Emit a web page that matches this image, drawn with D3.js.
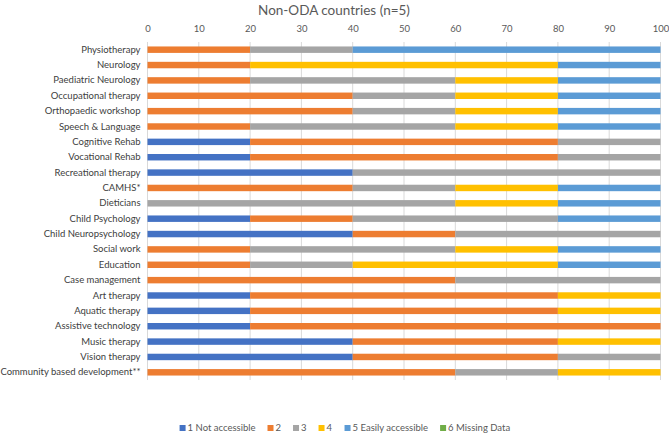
<!DOCTYPE html>
<html>
<head>
<meta charset="utf-8">
<script src="https://cdn.jsdelivr.net/npm/d3@7"></script>
<style>
  body { margin: 0; background: #fff; }
  svg { display: block; font-family: Lato, "Open Sans", sans-serif; }
</style>
</head>
<body>
<svg width="669" height="434"></svg>
<script>
var categories = [
  "Physiotherapy", "Neurology", "Paediatric Neurology", "Occupational therapy",
  "Orthopaedic workshop", "Speech & Language", "Cognitive Rehab", "Vocational Rehab",
  "Recreational therapy", "CAMHS*", "Dieticians", "Child Psychology",
  "Child Neuropsychology", "Social work", "Education", "Case management",
  "Art therapy", "Aquatic therapy", "Assistive technology", "Music therapy",
  "Vision therapy", "Community based development**"
];

var seriesNames = ["1 Not accessible", "2", "3", "4", "5 Easily accessible", "6 Missing Data"];
var colors = ["#4472C4", "#ED7D31", "#A5A5A5", "#FFC000", "#5B9BD5", "#70AD47"];

// percent of countries per rating, one array per series
var notAccessible = [0, 0, 0, 0, 0, 0, 20, 20, 40, 0, 0, 20, 40, 0, 0, 0, 20, 20, 20, 40, 40, 0];
var rating2       = [20, 20, 20, 40, 40, 20, 60, 60, 0, 40, 0, 20, 20, 20, 20, 60, 60, 60, 80, 40, 40, 60];
var rating3       = [20, 0, 40, 20, 20, 40, 20, 20, 60, 20, 60, 40, 40, 40, 20, 40, 0, 0, 0, 0, 20, 20];
var rating4       = [0, 60, 20, 20, 20, 20, 0, 0, 0, 20, 20, 0, 0, 20, 40, 0, 20, 20, 0, 20, 0, 20];
var easily        = [60, 20, 20, 20, 20, 20, 0, 0, 0, 20, 20, 20, 0, 20, 20, 0, 0, 0, 0, 0, 0, 0];
var missing       = [0, 0, 0, 0, 0, 0, 0, 0, 0, 0, 0, 0, 0, 0, 0, 0, 0, 0, 0, 0, 0, 0];

var xTicks = [0, 10, 20, 30, 40, 50, 60, 70, 80, 90, 100];

var values = [notAccessible, rating2, rating3, rating4, easily, missing];
var rows = categories.map(function (c, i) {
  var r = { cat: c };
  seriesNames.forEach(function (s, k) { r[s] = values[k][i]; });
  return r;
});

var svg = d3.select("svg");
var plotLeft = 147.5, plotRight = 660.5, plotTop = 42, plotBottom = 380;

var x = d3.scaleLinear().domain([0, 100]).range([plotLeft, plotRight]);
var y = d3.scaleBand().domain(categories).range([plotTop, plotBottom]).paddingInner(0.58).paddingOuter(0.29);

svg.append("text")
  .attr("x", 334).attr("y", 15)
  .attr("text-anchor", "middle")
  .attr("fill", "#595959")
  .style("font-size", "13.5px")
  .text("Non-ODA countries (n=5)");

// gridlines
svg.append("g")
  .selectAll("line")
  .data(xTicks)
  .enter().append("line")
  .attr("x1", d => x(d)).attr("x2", d => x(d))
  .attr("y1", plotTop).attr("y2", plotBottom)
  .attr("stroke", "#D9D9D9").attr("stroke-width", 1);

// top axis
var xAxis = svg.append("g")
  .attr("transform", "translate(0," + 32 + ")")
  .call(d3.axisTop(x).tickValues(xTicks).tickSize(0).tickPadding(0));
xAxis.select(".domain").remove();
xAxis.selectAll("text")
  .attr("fill", "#595959")
  .style("font-size", "9.5px")
  .style("font-family", "Lato, sans-serif");

// category axis
var yAxis = svg.append("g")
  .attr("transform", "translate(" + (plotLeft - 7) + ",0)")
  .call(d3.axisLeft(y).tickSize(0).tickPadding(0));
yAxis.select(".domain").remove();
yAxis.selectAll("text")
  .attr("fill", "#404040")
  .style("font-size", "9.5px")
  .style("font-family", "Lato, sans-serif");

var stack = d3.stack().keys(seriesNames)(rows);

svg.append("g")
  .selectAll("g")
  .data(stack)
  .enter().append("g")
  .attr("fill", (d, i) => colors[i])
  .selectAll("rect")
  .data(d => d)
  .enter().append("rect")
  .attr("x", d => x(d[0]))
  .attr("width", d => x(d[1]) - x(d[0]))
  .attr("y", d => y(d.data.cat))
  .attr("height", y.bandwidth());

// legend
var legend = svg.append("g").style("font-size", "9.5px");
var lx = 0;
var items = legend.selectAll("g")
  .data(seriesNames)
  .enter().append("g");
items.append("rect")
  .attr("width", 6).attr("height", 6).attr("y", -6)
  .attr("fill", (d, i) => colors[i]);
items.append("text")
  .attr("x", 8)
  .attr("fill", "#595959")
  .text(d => d);
items.each(function () {
  d3.select(this).attr("transform", "translate(" + lx + ",0)");
  lx += this.getBBox().width + 12;
});
lx -= 12;
legend.attr("transform", "translate(" + (345 - lx / 2) + "," + 431 + ")");
</script>
</body>
</html>
